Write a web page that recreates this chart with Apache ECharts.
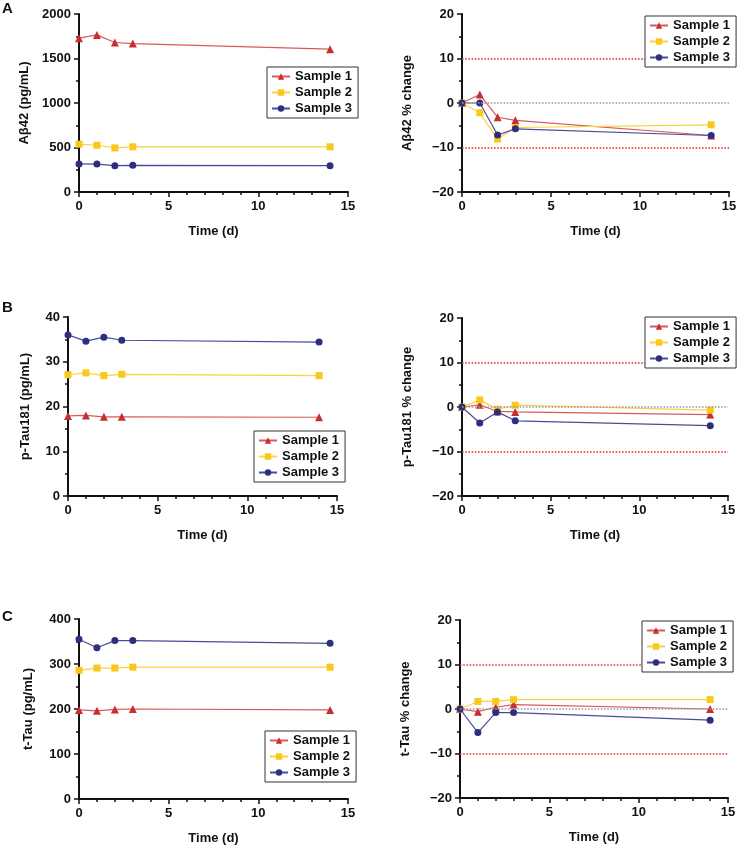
<!DOCTYPE html>
<html>
<head>
    <meta charset="utf-8">
    <title>Sample stability</title>
    <script src="https://cdn.jsdelivr.net/npm/echarts@6/dist/echarts.min.js"></script>
    <style>
        html, body { margin: 0; padding: 0; background: #fff; }
        #main { width: 747px; height: 847px; }
    </style>
</head>
<body>
    <div id="main"></div>
    <script>
        // time points (days)
        var days = [0, 1, 2, 3, 14];
        var sampleNames = ['Sample 1', 'Sample 2', 'Sample 3'];
        var xTicks = [0, 5, 10, 15];

        // A: Aβ42 concentration (pg/mL) and % change
        var ab42S1 = [1728, 1765, 1680, 1668, 1605];
        var ab42S2 = [537, 525, 495, 508, 508];
        var ab42S3 = [315, 314, 296, 300, 296];
        var ab42PctS1 = [0, 1.9, -3.2, -3.9, -7.3];
        var ab42PctS2 = [0, -2.2, -8.1, -5.5, -4.9];
        var ab42PctS3 = [0, 0, -7.2, -5.8, -7.3];

        // B: p-Tau181 (pg/mL) and % change
        var ptauS1 = [17.9, 18.0, 17.7, 17.7, 17.6];
        var ptauS2 = [27.1, 27.5, 26.9, 27.2, 26.9];
        var ptauS3 = [36.0, 34.6, 35.5, 34.8, 34.4];
        var ptauPctS1 = [0, 0.5, -1.0, -1.1, -1.7];
        var ptauPctS2 = [0, 1.6, -0.5, 0.4, -0.7];
        var ptauPctS3 = [0, -3.6, -1.1, -3.1, -4.2];

        // C: t-Tau (pg/mL) and % change
        var ttauS1 = [198, 196, 199, 200, 198];
        var ttauS2 = [286, 291, 291, 293, 293];
        var ttauS3 = [355, 336, 352, 352, 346];
        var ttauPctS1 = [0, -0.6, 0.4, 1.0, 0];
        var ttauPctS2 = [0, 1.7, 1.7, 2.1, 2.1];
        var ttauPctS3 = [0, -5.3, -0.8, -0.8, -2.5];

        var colors = ['#c62f31', '#f8c81a', '#2c2e7f'];
        var lineColors = ['#d9595b', '#f9d243', '#4a4c95'];
        var symbols = ['triangle', 'rect', 'circle'];
        var font = '"Liberation Sans", Arial, sans-serif';

        var chart = echarts.init(document.getElementById('main'));

        var panels = [
            { grid: { left: 79, top: 14, width: 269, height: 178 }, min: 0, max: 2000, step: 500, name: 'Aβ42 (pg/mL)', gap: 48, data: [ab42S1, ab42S2, ab42S3], legend: { left: 267, top: 67 } },
            { grid: { left: 462, top: 14, width: 267, height: 178 }, min: -20, max: 20, step: 10, name: 'Aβ42 % change', gap: 48, data: [ab42PctS1, ab42PctS2, ab42PctS3], legend: { left: 645, top: 16 }, refs: true },
            { grid: { left: 68, top: 317, width: 269, height: 179 }, min: 0, max: 40, step: 10, name: 'p-Tau181 (pg/mL)', gap: 36, data: [ptauS1, ptauS2, ptauS3], legend: { left: 254, top: 431 } },
            { grid: { left: 462, top: 318, width: 266, height: 178 }, min: -20, max: 20, step: 10, name: 'p-Tau181 % change', gap: 48, data: [ptauPctS1, ptauPctS2, ptauPctS3], legend: { left: 645, top: 317 }, refs: true },
            { grid: { left: 79, top: 619, width: 269, height: 180 }, min: 0, max: 400, step: 100, name: 't-Tau (pg/mL)', gap: 44, data: [ttauS1, ttauS2, ttauS3], legend: { left: 265, top: 731 } },
            { grid: { left: 460, top: 620, width: 268, height: 178 }, min: -20, max: 20, step: 10, name: 't-Tau % change', gap: 48, data: [ttauPctS1, ttauPctS2, ttauPctS3], legend: { left: 642, top: 621 }, refs: true }
        ];

        var axisLine = { show: true, onZero: false, lineStyle: { color: '#111', width: 2 } };
        var axisTick = { show: true, length: 5, lineStyle: { color: '#111', width: 1.5 } };
        var minorTick = { show: true, splitNumber: 2, length: 3, lineStyle: { color: '#111', width: 1.5 } };

        var grids = [], xAxes = [], yAxes = [], series = [], legends = [];

        panels.forEach(function (p, i) {
            grids.push(p.grid);
            xAxes.push({
                type: 'value', gridIndex: i, min: 0, max: 15, interval: 5,
                name: 'Time (d)', nameLocation: 'middle', nameGap: 33,
                nameTextStyle: { fontFamily: font, fontWeight: 'bold', fontSize: 13, color: '#111' },
                axisLine: axisLine, axisTick: axisTick,
                minorTick: { show: true, splitNumber: 5, length: 3, lineStyle: { color: '#111', width: 1.5 } },
                splitLine: { show: false },
                axisLabel: { fontFamily: font, fontWeight: 'bold', fontSize: 13, color: '#111', margin: 8 }
            });
            yAxes.push({
                type: 'value', gridIndex: i, min: p.min, max: p.max, interval: p.step,
                name: p.name, nameLocation: 'middle', nameGap: p.gap, nameRotate: 90,
                nameTextStyle: { fontFamily: font, fontWeight: 'bold', fontSize: 13, color: '#111' },
                axisLine: axisLine, axisTick: axisTick, minorTick: minorTick,
                splitLine: { show: false },
                axisLabel: { fontFamily: font, fontWeight: 'bold', fontSize: 13, color: '#111', margin: 8,
                    formatter: function (v) { return String(v).replace('-', '\u2212'); } }
            });
            p.data.forEach(function (vals, k) {
                var s = {
                    name: sampleNames[k], type: 'line', xAxisIndex: i, yAxisIndex: i,
                    data: days.map(function (d, j) { return [d, vals[j]]; }),
                    symbol: symbols[k], symbolSize: k === 0 ? 8 : 7,
                    itemStyle: { color: colors[k] },
                    lineStyle: { color: lineColors[k], width: 1.2 },
                    z: 2
                };
                if (p.refs && k === 0) {
                    s.markLine = {
                        silent: true, symbol: 'none', label: { show: false },
                        data: [
                            { yAxis: 10, lineStyle: { color: '#d8363a', type: 'dotted', width: 1.6 } },
                            { yAxis: -10, lineStyle: { color: '#d8363a', type: 'dotted', width: 1.6 } },
                            { yAxis: 0, lineStyle: { color: '#9a9a9a', type: 'dotted', width: 1.6 } }
                        ]
                    };
                }
                series.push(s);
            });
            legends.push({
                left: p.legend.left, top: p.legend.top, orient: 'vertical',
                data: sampleNames, selectedMode: false, z: 20,
                itemWidth: 18, itemHeight: 8, itemGap: 3, padding: [3, 6, 3, 4],
                backgroundColor: '#fff', borderColor: '#333', borderWidth: 1,
                textStyle: { fontFamily: font, fontWeight: 'bold', fontSize: 13, color: '#111' }
            });
        });

        var letterStyle = { fontFamily: font, fontWeight: 'bold', fontSize: 15, color: '#111' };
        var option = {
            animation: false,
            backgroundColor: '#fff',
            title: [
                { text: 'A', left: 2, top: 1, padding: 0, textStyle: letterStyle },
                { text: 'B', left: 2, top: 300, padding: 0, textStyle: letterStyle },
                { text: 'C', left: 2, top: 609, padding: 0, textStyle: letterStyle }
            ],
            grid: grids, xAxis: xAxes, yAxis: yAxes, legend: legends, series: series
        };
        chart.setOption(option);

        window.onresize = function () {
            chart.resize();
        };
    </script>
</body>
</html>
